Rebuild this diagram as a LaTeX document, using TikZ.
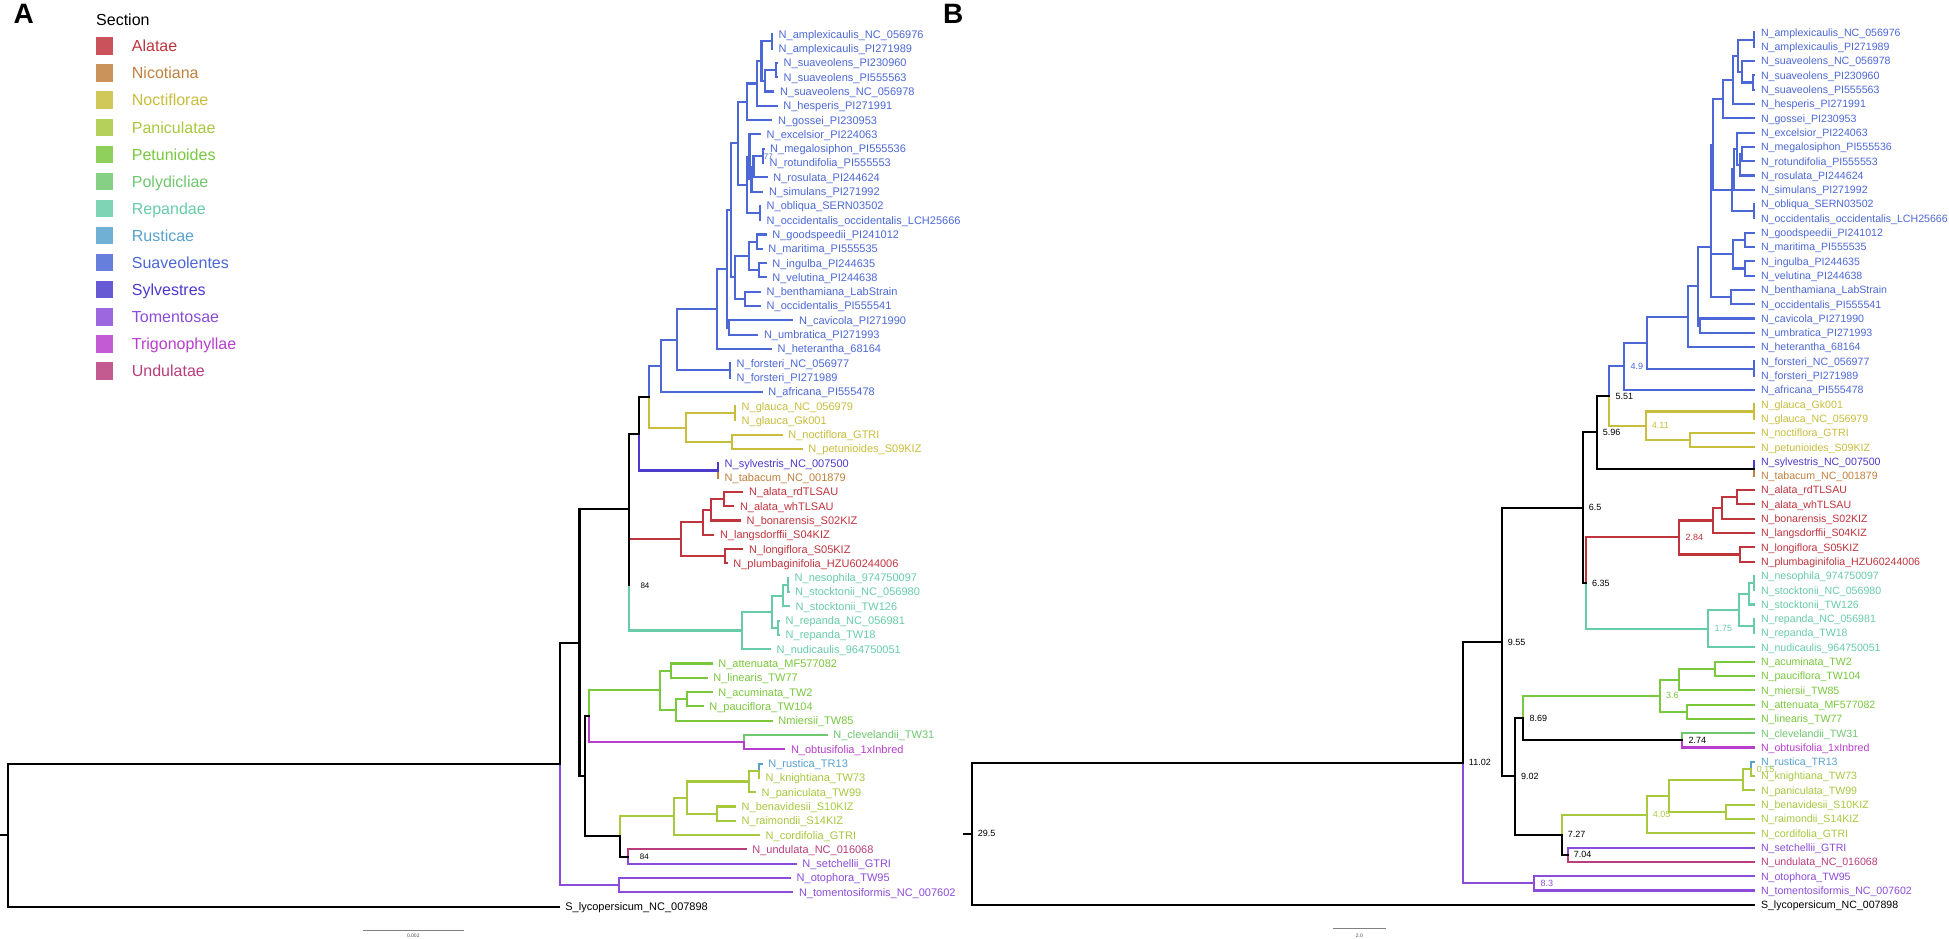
\documentclass[tikz,border=0pt]{standalone}
\usepackage{fontspec}
\setmainfont{Liberation Sans}
\definecolor{cAla}{RGB}{192,52,62}
\definecolor{cNic}{RGB}{192,128,62}
\definecolor{cNoc}{RGB}{200,190,60}
\definecolor{cPan}{RGB}{168,200,62}
\definecolor{cPet}{RGB}{122,200,62}
\definecolor{cPol}{RGB}{112,200,112}
\definecolor{cRep}{RGB}{104,204,168}
\definecolor{cRus}{RGB}{88,162,206}
\definecolor{cSua}{RGB}{76,104,214}
\definecolor{cSyl}{RGB}{76,58,204}
\definecolor{cTom}{RGB}{140,76,218}
\definecolor{cTri}{RGB}{184,62,204}
\definecolor{cUnd}{RGB}{184,62,124}
\newcommand{\TreeTip}[5]{\coordinate (#1) at (#2,#3); \node[tiplab,tipA,text=#4] (L#1) at (#1) {#5};}
\newcommand{\TreeEdge}[3]{\draw[br,draw=#3] (#1) |- (#2);}
\newcommand{\NodeLab}[4]{\node[nlab,text=#3] (NL#1) at (#1) {#4};}
\tikzset{
 br/.style={line width=2.1pt, line cap=rect, line join=miter},
 tiplab/.style={anchor=west, inner sep=0pt, xshift=6.5pt, text height=7.6pt, text depth=0pt, font=\fontsize{10.6}{12}\selectfont},
 tipA/.style={text height=7.9pt, font=\fontsize{11}{13}\selectfont},
 nlab/.style={anchor=west, inner sep=0pt, xshift=6pt, text height=6.4pt, text depth=0pt, font=\fontsize{9}{10}\selectfont},
 leglab/.style={anchor=west, inner sep=0pt, text height=11.4pt, text depth=0pt, font=\fontsize{16}{18}\selectfont},
 legsq/.style={minimum size=17.6pt, inner sep=0pt, draw=none},
 panlab/.style={anchor=base west, inner sep=0pt, font=\fontsize{28}{30}\selectfont\bfseries},
 sbar/.style={draw=gray, line width=0.9pt},
 sblab/.style={inner sep=0pt, font=\fontsize{5}{6}\selectfont, text=black!70}
}
\begin{document}
\begin{tikzpicture}[x=1pt,y=1pt]
\useasboundingbox (0,0) rectangle (1949,-939);
\fill[white] (0,0) rectangle (1949,-939);
% panel labels
\node[panlab] (labA) at (13.5,-24) {A};
\node[panlab] (labB) at (943,-24) {B};
% legend
\node[anchor=west, inner sep=0pt, text height=11.4pt, text depth=0pt, font=\fontsize{16}{18}\selectfont] (legtitle) at (96,-20) {Section};
\foreach \k/\c/\t in {0/cAla/Alatae,1/cNic/Nicotiana,2/cNoc/Noctiflorae,3/cPan/Paniculatae,4/cPet/Petunioides,5/cPol/Polydicliae,6/cRep/Repandae,7/cRus/Rusticae,8/cSua/Suaveolentes,9/cSyl/Sylvestres,10/cTom/Tomentosae,11/cTri/Trigonophyllae,12/cUnd/Undulatae}{
  \node[legsq, fill=\c!85] (sq\k) at (104.5,{-46.2-27.05*\k}) {};
  \node[leglab, text=\c] (lt\k) at (131.7,{-46.2-27.05*\k}) {\t};
}
% ================= PANEL A =================
\begin{scope}[y=-14.3pt, yshift=-34.3pt]
\TreeTip{a0}{772}{0}{cSua}{N\_amplexicaulis\_NC\_056976}
\TreeTip{a1}{772}{1}{cSua}{N\_amplexicaulis\_PI271989}
\TreeTip{a2}{777}{2}{cSua}{N\_suaveolens\_PI230960}
\TreeTip{a3}{777}{3}{cSua}{N\_suaveolens\_PI555563}
\TreeTip{a4}{773.3}{4}{cSua}{N\_suaveolens\_NC\_056978}
\TreeTip{a5}{776.7}{5}{cSua}{N\_hesperis\_PI271991}
\TreeTip{a6}{771.3}{6}{cSua}{N\_gossei\_PI230953}
\TreeTip{a7}{760}{7}{cSua}{N\_excelsior\_PI224063}
\TreeTip{a8}{763.5}{8}{cSua}{N\_megalosiphon\_PI555536}
\TreeTip{a9}{763}{9}{cSua}{N\_rotundifolia\_PI555553}
\TreeTip{a10}{766.7}{10}{cSua}{N\_rosulata\_PI244624}
\TreeTip{a11}{762.3}{11}{cSua}{N\_simulans\_PI271992}
\TreeTip{a12}{760}{12}{cSua}{N\_obliqua\_SERN03502}
\TreeTip{a13}{760}{13}{cSua}{N\_occidentalis\_occidentalis\_LCH25666}
\TreeTip{a14}{765.7}{14}{cSua}{N\_goodspeedii\_PI241012}
\TreeTip{a15}{761.7}{15}{cSua}{N\_maritima\_PI555535}
\TreeTip{a16}{765.7}{16}{cSua}{N\_ingulba\_PI244635}
\TreeTip{a17}{765.7}{17}{cSua}{N\_velutina\_PI244638}
\TreeTip{a18}{760}{18}{cSua}{N\_benthamiana\_LabStrain}
\TreeTip{a19}{760}{19}{cSua}{N\_occidentalis\_PI555541}
\TreeTip{a20}{792.3}{20}{cSua}{N\_cavicola\_PI271990}
\TreeTip{a21}{757.3}{21}{cSua}{N\_umbratica\_PI271993}
\TreeTip{a22}{771}{22}{cSua}{N\_heterantha\_68164}
\TreeTip{a23}{730}{23}{cSua}{N\_forsteri\_NC\_056977}
\TreeTip{a24}{730}{24}{cSua}{N\_forsteri\_PI271989}
\TreeTip{a25}{761.7}{25}{cSua}{N\_africana\_PI555478}
\TreeTip{a26}{735}{26}{cNoc}{N\_glauca\_NC\_056979}
\TreeTip{a27}{735}{27}{cNoc}{N\_glauca\_Gk001}
\TreeTip{a28}{781.7}{28}{cNoc}{N\_noctiflora\_GTRI}
\TreeTip{a29}{801.7}{29}{cNoc}{N\_petunioides\_S09KIZ}
\TreeTip{a30}{718}{30}{cSyl}{N\_sylvestris\_NC\_007500}
\TreeTip{a31}{718}{31}{cNic}{N\_tabacum\_NC\_001879}
\TreeTip{a32}{742.3}{32}{cAla}{N\_alata\_rdTLSAU}
\TreeTip{a33}{733.3}{33}{cAla}{N\_alata\_whTLSAU}
\TreeTip{a34}{740}{34}{cAla}{N\_bonarensis\_S02KIZ}
\TreeTip{a35}{713.3}{35}{cAla}{N\_langsdorffii\_S04KIZ}
\TreeTip{a36}{742.3}{36}{cAla}{N\_longiflora\_S05KIZ}
\TreeTip{a37}{726.7}{37}{cAla}{N\_plumbaginifolia\_HZU60244006}
\TreeTip{a38}{788}{38}{cRep}{N\_nesophila\_974750097}
\TreeTip{a39}{788.5}{39}{cRep}{N\_stocktonii\_NC\_056980}
\TreeTip{a40}{789}{40}{cRep}{N\_stocktonii\_TW126}
\TreeTip{a41}{779}{41}{cRep}{N\_repanda\_NC\_056981}
\TreeTip{a42}{779}{42}{cRep}{N\_repanda\_TW18}
\TreeTip{a43}{770}{43}{cRep}{N\_nudicaulis\_964750051}
\TreeTip{a44}{711.7}{44}{cPet}{N\_attenuata\_MF577082}
\TreeTip{a45}{706.7}{45}{cPet}{N\_linearis\_TW77}
\TreeTip{a46}{711.7}{46}{cPet}{N\_acuminata\_TW2}
\TreeTip{a47}{702.7}{47}{cPet}{N\_pauciflora\_TW104}
\TreeTip{a48}{771.7}{48}{cPet}{Nmiersii\_TW85}
\TreeTip{a49}{826.7}{49}{cPol}{N\_clevelandii\_TW31}
\TreeTip{a50}{784.3}{50}{cTri}{N\_obtusifolia\_1xInbred}
\TreeTip{a51}{761.7}{51}{cRus}{N\_rustica\_TR13}
\TreeTip{a52}{759}{52}{cPan}{N\_knightiana\_TW73}
\TreeTip{a53}{755}{53}{cPan}{N\_paniculata\_TW99}
\TreeTip{a54}{735}{54}{cPan}{N\_benavidesii\_S10KIZ}
\TreeTip{a55}{735}{55}{cPan}{N\_raimondii\_S14KIZ}
\TreeTip{a56}{759}{56}{cPan}{N\_cordifolia\_GTRI}
\TreeTip{a57}{745.7}{57}{cUnd}{N\_undulata\_NC\_016068}
\TreeTip{a58}{795.7}{58}{cTom}{N\_setchellii\_GTRI}
\TreeTip{a59}{790}{59}{cTom}{N\_otophora\_TW95}
\TreeTip{a60}{792.3}{60}{cTom}{N\_tomentosiformis\_NC\_007602}
\TreeTip{a61}{558.7}{61}{black}{S\_lycopersicum\_NC\_007898}
% internal nodes
\coordinate (Am) at (772,0.5);
\coordinate (Sp) at (776,2.5);
\coordinate (Su) at (765.3,3.25);
\coordinate (AS) at (761.5,1.875);
\coordinate (H) at (757.3,3.44);
\coordinate (G) at (746.7,4.72);
\coordinate (MR) at (762.7,8.5);
\coordinate (R) at (753.5,9.25);
\coordinate (Si) at (751.5,10.125);
\coordinate (EX) at (749.5,8.56);
\coordinate (OO) at (760,12.5);
\coordinate (E2) at (746.7,10.53);
\coordinate (GE) at (737.7,7.63);
\coordinate (GM) at (756.7,14.5);
\coordinate (IV) at (759.3,16.5);
\coordinate (GI) at (749.3,15.5);
\coordinate (BO) at (745,18.5);
\coordinate (GB) at (735,17);
\coordinate (GEGB) at (731,12.3);
\coordinate (CU) at (729,20.5);
\coordinate (S5) at (726.7,16.4);
\coordinate (S4) at (717.3,19.2);
\coordinate (FP) at (730,23.5);
\coordinate (S3) at (677.3,21.35);
\coordinate (S1) at (661.3,23.18);
\coordinate (GL) at (735,26.5);
\coordinate (NP) at (732.3,28.5);
\coordinate (N1) at (686,27.5);
\coordinate (P2) at (649,25.34);
\coordinate (SY) at (718,30.5);
\coordinate (P1) at (639,27.92);
\coordinate (ALp) at (724,32.5);
\coordinate (AL3) at (710.7,33.25);
\coordinate (AL2) at (702.7,34.125);
\coordinate (LP) at (725,36.5);
\coordinate (AL1) at (680.7,35.3);
\coordinate (NS1) at (787.7,38.5);
\coordinate (NS) at (783.3,39.25);
\coordinate (RP) at (778.3,41.5);
\coordinate (RE2) at (772,40.375);
\coordinate (RE1) at (741.7,41.69);
\coordinate (N84) at (629.3,38.5);
\coordinate (P0) at (629.3,33.2);
\coordinate (ALn) at (670.7,44.5);
\coordinate (AP2) at (686.7,46.5);
\coordinate (AP) at (675.7,47.25);
\coordinate (PE) at (660,45.875);
\coordinate (CO) at (744.3,49.5);
\coordinate (PO) at (589.3,47.69);
\coordinate (RKp) at (759,51.5);
\coordinate (RK) at (749.3,52.25);
\coordinate (BR) at (716.7,54.5);
\coordinate (PB) at (686.7,53.375);
\coordinate (PA) at (674,54.69);
\coordinate (U84) at (627.7,57.5);
\coordinate (PU) at (620,56.09);
\coordinate (PQ) at (585,51.89);
\coordinate (X579) at (579.5,42.55);
\coordinate (TO) at (619,59.5);
\coordinate (Nic) at (560,51.02);
\coordinate (RootA) at (8.4,56.01);
\coordinate (rsA) at (0,56.01);
% coloured edges
\TreeEdge{Am}{a0}{cSua}\TreeEdge{Am}{a1}{cSua}
\TreeEdge{Sp}{a2}{cSua}\TreeEdge{Sp}{a3}{cSua}
\TreeEdge{Su}{Sp}{cSua}\TreeEdge{Su}{a4}{cSua}
\TreeEdge{AS}{Am}{cSua}\TreeEdge{AS}{Su}{cSua}
\TreeEdge{H}{AS}{cSua}\TreeEdge{H}{a5}{cSua}
\TreeEdge{G}{H}{cSua}\TreeEdge{G}{a6}{cSua}
\TreeEdge{MR}{a8}{cSua}\TreeEdge{MR}{a9}{cSua}
\TreeEdge{R}{MR}{cSua}\TreeEdge{R}{a10}{cSua}
\TreeEdge{Si}{R}{cSua}\TreeEdge{Si}{a11}{cSua}
\TreeEdge{EX}{a7}{cSua}\TreeEdge{EX}{Si}{cSua}
\TreeEdge{OO}{a12}{cSua}\TreeEdge{OO}{a13}{cSua}
\TreeEdge{E2}{EX}{cSua}\TreeEdge{E2}{OO}{cSua}
\TreeEdge{GE}{G}{cSua}\TreeEdge{GE}{E2}{cSua}
\TreeEdge{GM}{a14}{cSua}\TreeEdge{GM}{a15}{cSua}
\TreeEdge{IV}{a16}{cSua}\TreeEdge{IV}{a17}{cSua}
\TreeEdge{GI}{GM}{cSua}\TreeEdge{GI}{IV}{cSua}
\TreeEdge{BO}{a18}{cSua}\TreeEdge{BO}{a19}{cSua}
\TreeEdge{GB}{GI}{cSua}\TreeEdge{GB}{BO}{cSua}
\TreeEdge{GEGB}{GE}{cSua}\TreeEdge{GEGB}{GB}{cSua}
\TreeEdge{CU}{a20}{cSua}\TreeEdge{CU}{a21}{cSua}
\TreeEdge{S5}{GEGB}{cSua}\TreeEdge{S5}{CU}{cSua}
\TreeEdge{S4}{S5}{cSua}\TreeEdge{S4}{a22}{cSua}
\TreeEdge{FP}{a23}{cSua}\TreeEdge{FP}{a24}{cSua}
\TreeEdge{S3}{S4}{cSua}\TreeEdge{S3}{FP}{cSua}
\TreeEdge{S1}{S3}{cSua}\TreeEdge{S1}{a25}{cSua}
\TreeEdge{GL}{a26}{cNoc}\TreeEdge{GL}{a27}{cNoc}
\TreeEdge{NP}{a28}{cNoc}\TreeEdge{NP}{a29}{cNoc}
\TreeEdge{N1}{GL}{cNoc}\TreeEdge{N1}{NP}{cNoc}
\TreeEdge{P2}{S1}{cSua}\TreeEdge{P2}{N1}{cNoc}
\TreeEdge{SY}{a30}{cSyl}\TreeEdge{SY}{a31}{cNic}
\TreeEdge{P1}{SY}{cSyl}
\TreeEdge{ALp}{a32}{cAla}\TreeEdge{ALp}{a33}{cAla}
\TreeEdge{AL3}{ALp}{cAla}\TreeEdge{AL3}{a34}{cAla}
\TreeEdge{AL2}{AL3}{cAla}\TreeEdge{AL2}{a35}{cAla}
\TreeEdge{LP}{a36}{cAla}\TreeEdge{LP}{a37}{cAla}
\TreeEdge{AL1}{AL2}{cAla}\TreeEdge{AL1}{LP}{cAla}
\TreeEdge{NS1}{a38}{cRep}\TreeEdge{NS1}{a39}{cRep}
\TreeEdge{NS}{NS1}{cRep}\TreeEdge{NS}{a40}{cRep}
\TreeEdge{RP}{a41}{cRep}\TreeEdge{RP}{a42}{cRep}
\TreeEdge{RE2}{NS}{cRep}\TreeEdge{RE2}{RP}{cRep}
\TreeEdge{RE1}{RE2}{cRep}\TreeEdge{RE1}{a43}{cRep}
\TreeEdge{N84}{AL1}{cAla}\TreeEdge{N84}{RE1}{cRep}
\TreeEdge{ALn}{a44}{cPet}\TreeEdge{ALn}{a45}{cPet}
\TreeEdge{AP2}{a46}{cPet}\TreeEdge{AP2}{a47}{cPet}
\TreeEdge{AP}{AP2}{cPet}\TreeEdge{AP}{a48}{cPet}
\TreeEdge{PE}{ALn}{cPet}\TreeEdge{PE}{AP}{cPet}
\TreeEdge{CO}{a49}{cPol}\TreeEdge{CO}{a50}{cTri}
\TreeEdge{PO}{PE}{cPet}\TreeEdge{PO}{CO}{cTri}
\TreeEdge{RKp}{a51}{cRus}\TreeEdge{RKp}{a52}{cPan}
\TreeEdge{RK}{RKp}{cPan}\TreeEdge{RK}{a53}{cPan}
\TreeEdge{BR}{a54}{cPan}\TreeEdge{BR}{a55}{cPan}
\TreeEdge{PB}{RK}{cPan}\TreeEdge{PB}{BR}{cPan}
\TreeEdge{PA}{PB}{cPan}\TreeEdge{PA}{a56}{cPan}
\TreeEdge{U84}{a57}{cUnd}\TreeEdge{U84}{a58}{cTom}
\TreeEdge{PU}{PA}{cPan}
\TreeEdge{TO}{a59}{cTom}\TreeEdge{TO}{a60}{cTom}
\TreeEdge{Nic}{TO}{cTom}
% black edges
\TreeEdge{P1}{P2}{black}
\TreeEdge{P0}{P1}{black}\TreeEdge{P0}{N84}{black}
\TreeEdge{PU}{U84}{black}
\TreeEdge{PQ}{PO}{black}\TreeEdge{PQ}{PU}{black}
\TreeEdge{X579}{P0}{black}\TreeEdge{X579}{PQ}{black}
\TreeEdge{Nic}{X579}{black}
\TreeEdge{RootA}{Nic}{black}\TreeEdge{RootA}{a61}{black}
\draw[br,black] (rsA) -- (RootA);
% support values
\node[nlab,text=cSua,xshift=-5pt,font=\fontsize{8}{9}\selectfont] (bs77) at (MR) {77};
\node[nlab,text=black,xshift=5pt,font=\fontsize{8}{9}\selectfont] (bs84a) at (N84) {84};
\node[nlab,text=black,xshift=6pt,font=\fontsize{8}{9}\selectfont] (bs84b) at (U84) {84};
\end{scope}
% scale bar A
\coordinate (sbA1) at (362.8,-930);
\coordinate (sbA2) at (464.2,-930);
\draw[sbar] (sbA1) -- (sbA2);
\node[sblab] (sbAt) at (413.3,-936) {0.002};
% ================= PANEL B =================
\begin{scope}[y=-14.3pt, yshift=-32.5pt]
\foreach \i/\c/\t in {0/cSua/N\_amplexicaulis\_NC\_056976,1/cSua/N\_amplexicaulis\_PI271989,2/cSua/N\_suaveolens\_NC\_056978,3/cSua/N\_suaveolens\_PI230960,4/cSua/N\_suaveolens\_PI555563,5/cSua/N\_hesperis\_PI271991,6/cSua/N\_gossei\_PI230953,7/cSua/N\_excelsior\_PI224063,8/cSua/N\_megalosiphon\_PI555536,9/cSua/N\_rotundifolia\_PI555553,10/cSua/N\_rosulata\_PI244624,11/cSua/N\_simulans\_PI271992,12/cSua/N\_obliqua\_SERN03502,13/cSua/N\_occidentalis\_occidentalis\_LCH25666,14/cSua/N\_goodspeedii\_PI241012,15/cSua/N\_maritima\_PI555535,16/cSua/N\_ingulba\_PI244635,17/cSua/N\_velutina\_PI244638,18/cSua/N\_benthamiana\_LabStrain,19/cSua/N\_occidentalis\_PI555541,20/cSua/N\_cavicola\_PI271990,21/cSua/N\_umbratica\_PI271993,22/cSua/N\_heterantha\_68164,23/cSua/N\_forsteri\_NC\_056977,24/cSua/N\_forsteri\_PI271989,25/cSua/N\_africana\_PI555478,26/cNoc/N\_glauca\_Gk001,27/cNoc/N\_glauca\_NC\_056979,28/cNoc/N\_noctiflora\_GTRI,29/cNoc/N\_petunioides\_S09KIZ,30/cSyl/N\_sylvestris\_NC\_007500,31/cNic/N\_tabacum\_NC\_001879,32/cAla/N\_alata\_rdTLSAU,33/cAla/N\_alata\_whTLSAU,34/cAla/N\_bonarensis\_S02KIZ,35/cAla/N\_langsdorffii\_S04KIZ,36/cAla/N\_longiflora\_S05KIZ,37/cAla/N\_plumbaginifolia\_HZU60244006,38/cRep/N\_nesophila\_974750097,39/cRep/N\_stocktonii\_NC\_056980,40/cRep/N\_stocktonii\_TW126,41/cRep/N\_repanda\_NC\_056981,42/cRep/N\_repanda\_TW18,43/cRep/N\_nudicaulis\_964750051,44/cPet/N\_acuminata\_TW2,45/cPet/N\_pauciflora\_TW104,46/cPet/N\_miersii\_TW85,47/cPet/N\_attenuata\_MF577082,48/cPet/N\_linearis\_TW77,49/cPol/N\_clevelandii\_TW31,50/cTri/N\_obtusifolia\_1xInbred,51/cRus/N\_rustica\_TR13,52/cPan/N\_knightiana\_TW73,53/cPan/N\_paniculata\_TW99,54/cPan/N\_benavidesii\_S10KIZ,55/cPan/N\_raimondii\_S14KIZ,56/cPan/N\_cordifolia\_GTRI,57/cTom/N\_setchellii\_GTRI,58/cUnd/N\_undulata\_NC\_016068,59/cTom/N\_otophora\_TW95,60/cTom/N\_tomentosiformis\_NC\_007602,61/black/S\_lycopersicum\_NC\_007898}{
  \coordinate (b\i) at (1754.3,\i);
  \node[tiplab,text=\c] (Lb\i) at (b\i) {\t};
}
\coordinate (AmB) at (1754.3,0.5);
\coordinate (SuPIB) at (1753.3,3.5);
\coordinate (SuB) at (1742.3,2.75);
\coordinate (ASB) at (1737.7,1.625);
\coordinate (HB) at (1733.3,3.31);
\coordinate (GBB) at (1723.3,4.66);
\coordinate (MRB) at (1742.3,8.5);
\coordinate (RB) at (1740,9.25);
\coordinate (EXB) at (1736.7,8.125);
\coordinate (SiB) at (1734.3,9.56);
\coordinate (OOB) at (1754.3,12.5);
\coordinate (E2B) at (1731.7,11.03);
\coordinate (YB) at (1713.3,7.85);
\coordinate (GMB) at (1745,14.5);
\coordinate (IVB) at (1745,16.5);
\coordinate (GIB) at (1732.7,15.5);
\coordinate (BOB) at (1730.7,18.5);
\coordinate (X1B) at (1711,15.0);
\coordinate (CUB) at (1700,20.5);
\coordinate (X2B) at (1698.3,17.75);
\coordinate (X3B) at (1687.7,19.875);
\coordinate (FPB) at (1754.3,23.5);
\coordinate (X4B) at (1646.7,21.69);
\coordinate (SaB) at (1624.3,23.34);
\coordinate (GLB) at (1754.3,26.5);
\coordinate (NPB) at (1690,28.5);
\coordinate (NoB) at (1645.7,27.5);
\coordinate (N551) at (1609.3,25.42);
\coordinate (SYB) at (1754.3,30.5);
\coordinate (N596) at (1596.7,27.96);
\coordinate (ALpB) at (1736.7,32.5);
\coordinate (AL3B) at (1721.7,33.25);
\coordinate (AL2B) at (1713.3,34.125);
\coordinate (LPB) at (1740,36.5);
\coordinate (AL1B) at (1679.3,35.31);
\coordinate (NS1B) at (1754.3,38.5);
\coordinate (NSB) at (1749.3,39.25);
\coordinate (RPB) at (1754.3,41.5);
\coordinate (RE2B) at (1738.7,40.375);
\coordinate (RE1B) at (1708.3,41.69);
\coordinate (N635) at (1586,38.5);
\coordinate (N65) at (1582.7,33.23);
\coordinate (AcPaB) at (1715,44.5);
\coordinate (APB) at (1679,45.25);
\coordinate (ALB) at (1687.3,47.5);
\coordinate (PEB) at (1660,46.375);
\coordinate (COB) at (1682.3,49.5);
\coordinate (N869) at (1523.3,47.94);
\coordinate (RKpB) at (1750.7,51.5);
\coordinate (RKB) at (1743.3,52.25);
\coordinate (BRB) at (1725.7,54.5);
\coordinate (PBB) at (1669,53.375);
\coordinate (PAB) at (1646.7,54.69);
\coordinate (N704) at (1567.7,57.5);
\coordinate (N727) at (1561.7,56.09);
\coordinate (N902) at (1515,52.02);
\coordinate (N955) at (1501.7,42.62);
\coordinate (TOB) at (1534.3,59.5);
\coordinate (N1102) at (1462.7,51.06);
\coordinate (RootB) at (971.7,56.03);
\coordinate (rsB) at (964.3,56.03);
% coloured edges
\TreeEdge{AmB}{b0}{cSua}\TreeEdge{AmB}{b1}{cSua}
\TreeEdge{SuPIB}{b3}{cSua}\TreeEdge{SuPIB}{b4}{cSua}
\TreeEdge{SuB}{b2}{cSua}\TreeEdge{SuB}{SuPIB}{cSua}
\TreeEdge{ASB}{AmB}{cSua}\TreeEdge{ASB}{SuB}{cSua}
\TreeEdge{HB}{ASB}{cSua}\TreeEdge{HB}{b5}{cSua}
\TreeEdge{GBB}{HB}{cSua}\TreeEdge{GBB}{b6}{cSua}
\TreeEdge{MRB}{b8}{cSua}\TreeEdge{MRB}{b9}{cSua}
\TreeEdge{RB}{MRB}{cSua}\TreeEdge{RB}{b10}{cSua}
\TreeEdge{EXB}{b7}{cSua}\TreeEdge{EXB}{RB}{cSua}
\TreeEdge{SiB}{EXB}{cSua}\TreeEdge{SiB}{b11}{cSua}
\TreeEdge{OOB}{b12}{cSua}\TreeEdge{OOB}{b13}{cSua}
\TreeEdge{E2B}{SiB}{cSua}\TreeEdge{E2B}{OOB}{cSua}
\TreeEdge{YB}{GBB}{cSua}\TreeEdge{YB}{E2B}{cSua}
\TreeEdge{GMB}{b14}{cSua}\TreeEdge{GMB}{b15}{cSua}
\TreeEdge{IVB}{b16}{cSua}\TreeEdge{IVB}{b17}{cSua}
\TreeEdge{GIB}{GMB}{cSua}\TreeEdge{GIB}{IVB}{cSua}
\TreeEdge{BOB}{b18}{cSua}\TreeEdge{BOB}{b19}{cSua}
\TreeEdge{X1B}{YB}{cSua}\TreeEdge{X1B}{GIB}{cSua}\TreeEdge{X1B}{BOB}{cSua}
\TreeEdge{CUB}{b20}{cSua}\TreeEdge{CUB}{b21}{cSua}
\TreeEdge{X2B}{X1B}{cSua}\TreeEdge{X2B}{CUB}{cSua}
\TreeEdge{X3B}{X2B}{cSua}\TreeEdge{X3B}{b22}{cSua}
\TreeEdge{FPB}{b23}{cSua}\TreeEdge{FPB}{b24}{cSua}
\TreeEdge{X4B}{X3B}{cSua}\TreeEdge{X4B}{FPB}{cSua}
\TreeEdge{SaB}{X4B}{cSua}\TreeEdge{SaB}{b25}{cSua}
\TreeEdge{GLB}{b26}{cNoc}\TreeEdge{GLB}{b27}{cNoc}
\TreeEdge{NPB}{b28}{cNoc}\TreeEdge{NPB}{b29}{cNoc}
\TreeEdge{NoB}{GLB}{cNoc}\TreeEdge{NoB}{NPB}{cNoc}
\TreeEdge{N551}{SaB}{cSua}\TreeEdge{N551}{NoB}{cNoc}
\TreeEdge{SYB}{b30}{cSyl}\TreeEdge{SYB}{b31}{cNic}
\TreeEdge{ALpB}{b32}{cAla}\TreeEdge{ALpB}{b33}{cAla}
\TreeEdge{AL3B}{ALpB}{cAla}\TreeEdge{AL3B}{b34}{cAla}
\TreeEdge{AL2B}{AL3B}{cAla}\TreeEdge{AL2B}{b35}{cAla}
\TreeEdge{LPB}{b36}{cAla}\TreeEdge{LPB}{b37}{cAla}
\TreeEdge{AL1B}{AL2B}{cAla}\TreeEdge{AL1B}{LPB}{cAla}
\TreeEdge{NS1B}{b38}{cRep}\TreeEdge{NS1B}{b39}{cRep}
\TreeEdge{NSB}{NS1B}{cRep}\TreeEdge{NSB}{b40}{cRep}
\TreeEdge{RPB}{b41}{cRep}\TreeEdge{RPB}{b42}{cRep}
\TreeEdge{RE2B}{NSB}{cRep}\TreeEdge{RE2B}{RPB}{cRep}
\TreeEdge{RE1B}{RE2B}{cRep}\TreeEdge{RE1B}{b43}{cRep}
\TreeEdge{N635}{AL1B}{cAla}\TreeEdge{N635}{RE1B}{cRep}
\TreeEdge{AcPaB}{b44}{cPet}\TreeEdge{AcPaB}{b45}{cPet}
\TreeEdge{APB}{AcPaB}{cPet}\TreeEdge{APB}{b46}{cPet}
\TreeEdge{ALB}{b47}{cPet}\TreeEdge{ALB}{b48}{cPet}
\TreeEdge{PEB}{APB}{cPet}\TreeEdge{PEB}{ALB}{cPet}
\TreeEdge{COB}{b49}{cPol}\TreeEdge{COB}{b50}{cTri}
\TreeEdge{N869}{PEB}{cPet}
\TreeEdge{RKpB}{b51}{cRus}\TreeEdge{RKpB}{b52}{cPan}
\TreeEdge{RKB}{RKpB}{cPan}\TreeEdge{RKB}{b53}{cPan}
\TreeEdge{BRB}{b54}{cPan}\TreeEdge{BRB}{b55}{cPan}
\TreeEdge{PBB}{RKB}{cPan}\TreeEdge{PBB}{BRB}{cPan}
\TreeEdge{PAB}{PBB}{cPan}\TreeEdge{PAB}{b56}{cPan}
\TreeEdge{N704}{b57}{cTom}\TreeEdge{N704}{b58}{cUnd}
\TreeEdge{N727}{PAB}{cPan}
\TreeEdge{TOB}{b59}{cTom}\TreeEdge{TOB}{b60}{cTom}
\TreeEdge{N1102}{TOB}{cTom}
% black edges
\TreeEdge{N596}{N551}{black}\TreeEdge{N596}{SYB}{black}
\TreeEdge{N65}{N596}{black}\TreeEdge{N65}{N635}{black}
\TreeEdge{N869}{COB}{black}
\TreeEdge{N727}{N704}{black}
\TreeEdge{N902}{N869}{black}\TreeEdge{N902}{N727}{black}
\TreeEdge{N955}{N65}{black}\TreeEdge{N955}{N902}{black}
\TreeEdge{N1102}{N955}{black}
\TreeEdge{RootB}{N1102}{black}\TreeEdge{RootB}{b61}{black}
\draw[br,black] (rsB) -- (RootB);
% node ages
\NodeLab{SaB}{4.9}{cSua}{4.9}
\NodeLab{N551}{5.51}{black}{5.51}
\NodeLab{N596}{5.96}{black}{5.96}
\NodeLab{NoB}{4.11}{cNoc}{4.11}
\NodeLab{N65}{6.5}{black}{6.5}
\NodeLab{AL1B}{2.84}{cAla}{2.84}
\NodeLab{N635}{6.35}{black}{6.35}
\NodeLab{RE1B}{1.75}{cRep}{1.75}
\NodeLab{N955}{9.55}{black}{9.55}
\NodeLab{PEB}{3.6}{cPet}{3.6}
\NodeLab{N869}{8.69}{black}{8.69}
\NodeLab{COB}{2.74}{black}{2.74}
\NodeLab{N902}{9.02}{black}{9.02}
\NodeLab{RKpB}{0.15}{cPan}{0.15}
\NodeLab{PAB}{4.05}{cPan}{4.05}
\NodeLab{N727}{7.27}{black}{7.27}
\NodeLab{N704}{7.04}{black}{7.04}
\NodeLab{N1102}{11.02}{black}{11.02}
\NodeLab{TOB}{8.3}{cTom}{8.3}
\NodeLab{RootB}{29.5}{black}{29.5}
\end{scope}
% scale bar B
\coordinate (sbB1) at (1332.7,-928.3);
\coordinate (sbB2) at (1386,-928.3);
\draw[sbar] (sbB1) -- (sbB2);
\node[sblab] (sbBt) at (1359.3,-935.5) {2.0};
\end{tikzpicture}
\end{document}
